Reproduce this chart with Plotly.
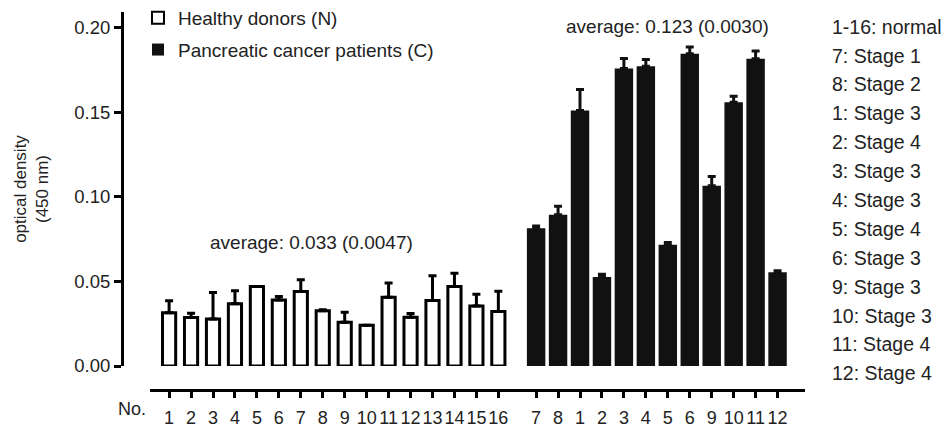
import plotly.graph_objects as go

# ---------------- data ----------------
normal_labels = [str(i) for i in range(1, 17)]
normal_values = [0.0315, 0.0286, 0.0278, 0.0367, 0.0469, 0.0390, 0.0440, 0.0327,
                 0.0258, 0.0241, 0.0406, 0.0288, 0.0387, 0.0469, 0.0355, 0.0322]
normal_errors = [0.0070, 0.0026, 0.0156, 0.0077, 0.0000, 0.0020, 0.0070, 0.0005,
                 0.0060, 0.0000, 0.0084, 0.0022, 0.0146, 0.0079, 0.0069, 0.0120]

cancer_labels = ["7", "8", "1", "2", "3", "4", "5", "6", "9", "10", "11", "12"]
cancer_values = [0.0813, 0.0893, 0.1509, 0.0525, 0.1757, 0.1771, 0.0716, 0.1844,
                 0.1065, 0.1558, 0.1815, 0.0554]
cancer_errors = [0.0014, 0.0050, 0.0124, 0.0017, 0.0060, 0.0040, 0.0014, 0.0040,
                 0.0055, 0.0036, 0.0045, 0.0008]
cancer_stages = [1, 2, 3, 4, 3, 3, 4, 3, 3, 3, 4, 4]

normal_avg, normal_se = 0.033, 0.0047
cancer_avg, cancer_se = 0.123, 0.0030

y_ticks = [0.00, 0.05, 0.10, 0.15, 0.20]

# ---------------- layout helpers ----------------
W, H = 947, 427
ML, MR, MT, MB = 122, 142, 12, 37
PW, PH = W - ML - MR, H - MT - MB
GAP = 0.72  # extra gap between the two groups (in bar slots)
TXT = "#222222"
FONT = "Liberation Sans, Arial, sans-serif"


def px_x(px):
    return (px - ML) / PW


def px_y(py):
    return (H - MB - py) / PH


normal_x = list(range(len(normal_values)))
cancer_x = [len(normal_values) + GAP + j for j in range(len(cancer_values))]

fig = go.Figure()
fig.add_trace(go.Bar(
    x=normal_x, y=normal_values, name="Healthy donors (N)", legendgroup="n",
    width=0.6, marker=dict(color="white", line=dict(color="black", width=3)),
    error_y=dict(type="data", array=normal_errors, arrayminus=[0] * len(normal_errors),
                 symmetric=False, color="black", thickness=3, width=4),
))
fig.add_trace(go.Bar(
    x=cancer_x, y=cancer_values, name="Pancreatic cancer patients (C)", legendgroup="c",
    width=0.84, marker=dict(color="#111111", line=dict(color="#111111", width=0)),
    error_y=dict(type="data", array=cancer_errors, arrayminus=[0] * len(cancer_errors),
                 symmetric=False, color="#111111", thickness=3, width=4),
))

annotations = [
    dict(x=6.49, y=0.0727, xref="x", yref="y",
         text=f"average: {normal_avg:.3f} ({normal_se:.4f})",
         showarrow=False, font=dict(size=19, color=TXT, family=FONT)),
    dict(x=22.71, y=0.2004, xref="x", yref="y",
         text=f"average: {cancer_avg:.3f} ({cancer_se:.4f})",
         showarrow=False, font=dict(size=19, color=TXT, family=FONT)),
    dict(x=px_x(132), y=px_y(409), xref="paper", yref="paper", text="No.",
         showarrow=False, xanchor="center", yanchor="middle",
         font=dict(size=18, color=TXT, family=FONT)),
]

right_lines = [f"1-{len(normal_labels)}: normal"] + [
    f"{lab}: Stage {st}" for lab, st in zip(cancer_labels, cancer_stages)]
for i, t in enumerate(right_lines):
    annotations.append(dict(
        x=px_x(830), y=px_y(26.7 + i * 28.88), xref="paper", yref="paper",
        text=t, showarrow=False, xanchor="left", yanchor="middle",
        font=dict(size=19.5, color=TXT, family=FONT)))

fig.update_layout(
    width=W, height=H,
    margin=dict(l=ML, r=MR, t=MT, b=MB, autoexpand=False),
    paper_bgcolor="white", plot_bgcolor="white",
    font=dict(family=FONT, color=TXT, size=18),
    barmode="overlay",
    showlegend=True,
    legend=dict(x=px_x(138), y=px_y(-1), xanchor="left", yanchor="top",
                font=dict(size=19, color=TXT, family=FONT),
                bgcolor="rgba(0,0,0,0)", tracegroupgap=4, itemsizing="constant"),
    xaxis=dict(
        domain=[px_x(150), 1], range=[-0.87, 28.97], anchor="free", position=0,
        automargin=False,
        showline=True, linecolor="black", linewidth=3,
        ticks="outside", ticklen=6, tickwidth=3, tickcolor="black",
        tickvals=normal_x + cancer_x, ticktext=normal_labels + cancer_labels,
        tickangle=0, ticklabelstandoff=4,
        tickfont=dict(size=18, color=TXT, family=FONT),
        showgrid=False, zeroline=False, fixedrange=True,
    ),
    yaxis=dict(
        domain=[px_y(366), 1], range=[0, (366 - 12) / 1693], anchor="free", position=0,
        automargin=False,
        showline=True, linecolor="black", linewidth=3,
        ticks="outside", ticklen=7, tickwidth=3, tickcolor="black",
        tickvals=y_ticks, tickformat=".2f",
        tickfont=dict(size=18.5, color=TXT, family=FONT),
        showgrid=False, zeroline=False, fixedrange=True,
        title=dict(text="optical density<br>(450 nm)", standoff=20,
                   font=dict(size=17, color=TXT, family=FONT)),
    ),
    annotations=annotations,
)

fig.write_html(
    "out.html",
    config={"displayModeBar": False, "staticPlot": False},
    post_script="document.body.style.margin='0';document.body.style.padding='0';"
                "document.body.style.overflow='hidden';",
)
